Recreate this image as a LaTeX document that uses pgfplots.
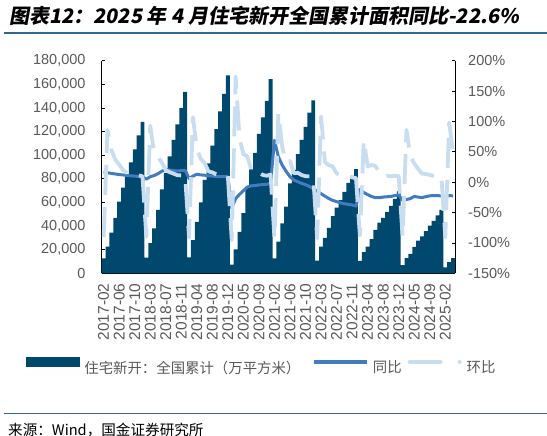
\documentclass[border=0pt]{standalone}
\usepackage{pgfplots}
\pgfplotsset{compat=1.18}
\usepackage{pgfplotstable}
\usepackage{fontspec}
\setmainfont{Liberation Sans}
\newfontfamily\cjk{Noto Sans CJK SC}
\newfontfamily\cjkt[FakeSlant=0.18]{Noto Sans CJK SC}

\definecolor{barblue}{RGB}{0,72,110}
\definecolor{yoyblue}{RGB}{66,124,190}
\definecolor{momblue}{RGB}{200,222,240}
\definecolor{ticktext}{RGB}{89,89,89}
\definecolor{rulecol}{RGB}{45,105,145}

\pgfplotsset{/pgf/number format/assume math mode=true}

% x = month index (Jan missing), cum = 万平方米, yoy/mom in %
\pgfplotstableread{
x cum yoy mom
0 12700 16 -90
1 22500 15.5 86
2 34400 14.5 53
3 47000 13.5 37
4 60600 12.5 29
5 72500 12 20
6 83800 11 15.6
7 94000 10.5 12
8 105000 10 11.7
9 116800 9.5 11.2
10 128100 9 9.7
11 13200 5 -89.7
12 25500 9 93
13 38000 11 49
14 53600 14 41
15 71000 18 32.5
16 85000 21 19.7
17 99000 20 16.5
18 113000 19 14.1
19 126000 18.5 11.5
20 140000 19 11.1
21 153500 19.7 9.6
22 13500 6 -91.2
23 28000 10 107
24 43500 13 55
25 60000 12 38
26 79000 11.5 31.7
27 93000 10.5 17.7
28 108000 10 16.1
29 122000 9.5 13
30 137000 9 12.3
31 152000 9 10.9
32 167500 9 10.2
33 7400 -43 -95.6
34 20300 -27 174
35 35000 -20 72
36 51000 -14 46
37 73000 -8 43
38 88000 -6 20.5
39 102000 -5.5 15.9
40 118000 -4.5 15.7
41 132000 -4 11.9
42 146000 -3.5 10.6
43 164300 -2 12.5
44 12700 69 -92.3
45 26800 42 114
46 42300 28 57.8
47 56400 18 33.3
48 76200 9 35
49 87500 3.6 14.8
50 101000 0.8 15.4
51 112900 -2 11.8
52 124000 -4 9.8
53 136000 -7 9.7
54 146400 -10.9 7.6
55 10800 -15 -92.6
56 22500 -19 108
57 30000 -23 33
58 38500 -27 28
59 48500 -30 26
60 55500 -32 14.4
61 62000 -34 11.7
62 69000 -35.5 11.3
63 76500 -36.5 10.9
64 82500 -37.5 7.8
65 88100 -39.4 6.8
66 10600 -12 -88
67 17900 -17 69
68 22600 -20.5 26
69 29000 -23.5 28.3
70 36700 -25.5 26.6
71 42900 -25.5 16.9
72 47000 -24.5 9.6
73 52000 -24 10.6
74 57000 -23.5 9.6
75 63000 -22 10.5
76 69300 -21 10
77 6900 -30 -90
78 12800 -28.5 86
79 16500 -27 42
80 22300 -23.5 31
81 27700 -24.5 22
82 31200 -25.5 14
83 35800 -23.8 13.5
84 40300 -22.5 12
85 44400 -22 10.5
86 49000 -22.2 10
87 53700 -22.5 9.6
88 5000 -24 -90.7
89 9400 -22 98
90 12770 -22.6 48
}\starts

\begin{document}
\begin{tikzpicture}
% title and rule
\node[anchor=west, inner sep=0pt, font=\cjkt\bfseries\fontsize{20bp}{23bp}\selectfont]
  at (9bp,420bp) {图表12：2025 年 4 月住宅新开全国累计面积同比-22.6\%};
\draw[rulecol, line width=1.5bp] (4bp,403bp) -- (547bp,403bp);

\pgfplotsset{
  chartbox/.style={
    at={(101.7bp,162.7bp)}, anchor=south west,
    width=353.3bp, height=212.6bp, scale only axis,
    xmin=-0.5, xmax=90.5,
    axis line style={black, line width=1bp, -},
    tick align=inside, major tick length=3bp,
    tick style={black, line width=0.8bp},
    tick label style={font=\fontsize{14.5bp}{16bp}\selectfont, text=ticktext},
  }
}

% cumulative bars, left axis
\begin{axis}[chartbox,
  ymin=0, ymax=180000,
  axis y line*=left, axis x line*=bottom,
  xtick={0,4,...,88},
  xticklabels={2017-02,2017-06,2017-10,2018-03,2018-07,2018-11,2019-04,2019-08,2019-12,2020-05,2020-09,2021-02,2021-06,2021-10,2022-03,2022-07,2022-11,2023-04,2023-08,2023-12,2024-05,2024-09,2025-02},
  ytick={0,20000,...,180000},
  scaled y ticks=false,
  yticklabel style={/pgf/number format/fixed, /pgf/number format/1000 sep={,}, anchor=east, inner sep=0pt, xshift=-16bp},
  xticklabel style={yshift=-10bp, rotate=90, anchor=east, inner sep=0pt, font=\fontsize{15.5bp}{17bp}\selectfont},
]
\addplot[ybar, bar width=1, fill=barblue, draw=none] table[x=x, y=cum]{\starts};
\end{axis}

% yoy / mom lines, right axis
\begin{axis}[chartbox,
  ymin=-150, ymax=200,
  axis y line*=right, axis x line=none,
  ytick={-150,-100,...,200},
  yticklabel={\pgfmathprintnumber{\tick}\%},
  yticklabel style={anchor=west, inner sep=0pt, xshift=13bp},
  legend style={at={(-0.2143,-0.436)}, anchor=west, draw=none, fill=none,
    inner sep=0pt, outer sep=0pt, legend columns=3,
    font=\cjk\fontsize{14.4bp}{16bp}\selectfont, text=ticktext,
    nodes={inner sep=0pt},
    /tikz/column 1/.style={column sep=5bp},
    /tikz/column 2/.style={column sep=12bp},
    /tikz/column 3/.style={column sep=4bp},
    /tikz/column 4/.style={column sep=6bp},
    /tikz/column 5/.style={column sep=5bp}},
]
\addlegendimage{legend image code/.code={\fill[barblue] (0bp,1bp) rectangle (53bp,10bp);}}
\addlegendentry{住宅新开：全国累计（万平方米）}
\addplot[yoyblue, line width=3bp, line join=round,
  legend image code/.code={\draw[yoyblue, line width=3.6bp] (0bp,5.5bp) -- (53bp,5.5bp);}]
  table[x=x, y=yoy]{\starts};
\addlegendentry{同比}
\addplot[momblue, line width=3.8bp, line join=round, dash pattern=on 30bp off 12bp,
  legend image code/.code={\draw[momblue, line width=3.8bp, line cap=round,
    dash pattern=on 31bp off 19bp on 0.01bp off 20bp] (2bp,5.5bp) -- (52.1bp,5.5bp);}]
  table[x=x, y=mom]{\starts};
\addlegendentry{环比}
\end{axis}

% source
\draw[rulecol, line width=1.3bp] (4bp,22.5bp) -- (547bp,22.5bp);
\node[anchor=west, inner sep=0pt, font=\cjk\fontsize{14.6bp}{16bp}\selectfont]
  at (8bp,6bp) {来源：Wind，国金证券研究所};

\pgfresetboundingbox
\path[use as bounding box] (0bp,0bp) rectangle (547bp,436bp);
\end{tikzpicture}
\end{document}
